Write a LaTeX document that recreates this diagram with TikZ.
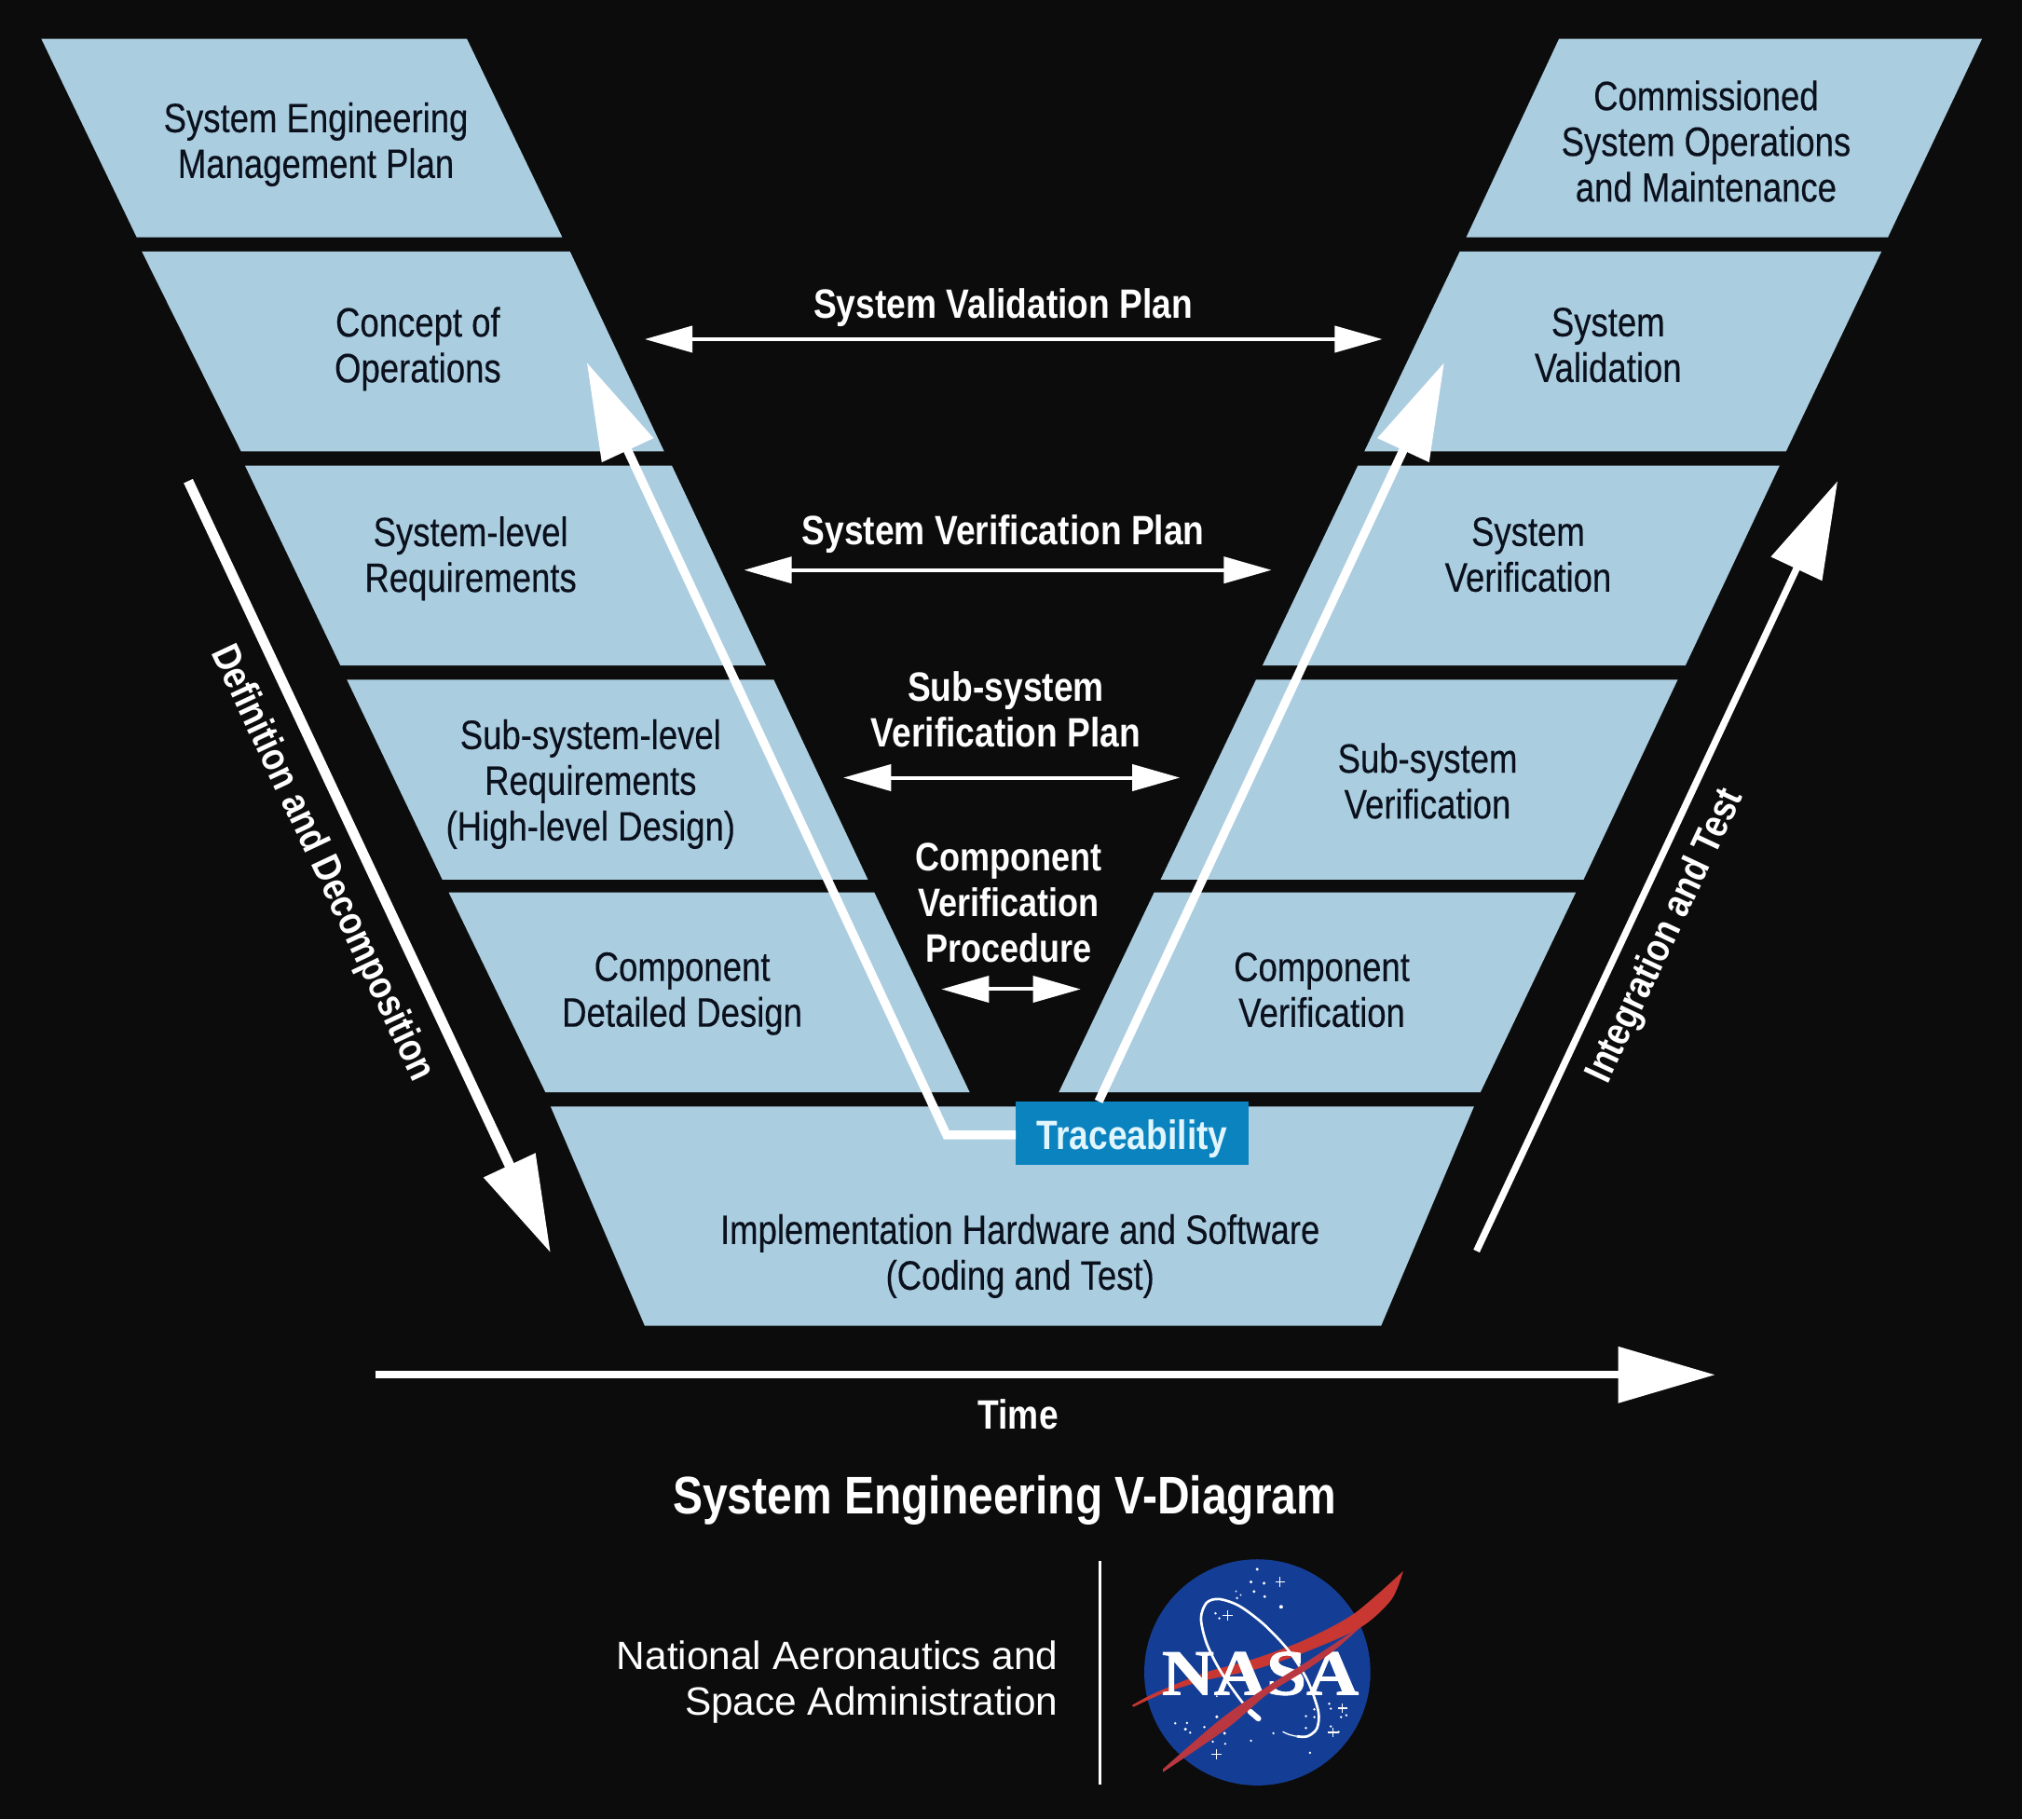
\documentclass[tikz,border=0pt]{standalone}
\usepackage{fontspec}
\setmainfont{Liberation Sans}[FakeStretch=0.83,FakeBold=0.25]
\newfontfamily\planfont{Liberation Sans}[FakeStretch=0.845]
\newfontfamily\plainsans{Liberation Sans}
\newfontfamily\logoserif{Liberation Serif}[FakeStretch=1.12,FakeBold=1.2]
\usetikzlibrary{arrows.meta}
\definecolor{pagebg}{RGB}{12,12,12}
\definecolor{bandblue}{RGB}{171,205,224}
\definecolor{inkdark}{RGB}{10,16,28}
\definecolor{tracebox}{RGB}{10,131,191}
\definecolor{tracetext}{RGB}{225,245,252}
\definecolor{logoblue}{RGB}{20,62,150}
\definecolor{logored}{RGB}{200,55,50}
\definecolor{logored2}{RGB}{185,55,65}
\tikzset{
  band/.style={fill=bandblue},
  bandlabel/.style={text=inkdark,align=center,inner sep=0.75pt,font=\fontsize{33}{36.8}\selectfont},
  planlabel/.style={text=white,align=center,inner sep=0.75pt,font=\planfont\fontsize{33}{36.8}\selectfont\bfseries},
  planarrow/.style={draw=white,line width=3,{Triangle[length=38.4,width=21]}-{Triangle[length=38.4,width=21]}},
  bigarrow/.style={draw=white,line width=7,-{Triangle[length=78,width=44]}},
}
\begin{document}
\begin{tikzpicture}[x=1.038pt,y=1.038pt,yscale=-1,xscale=1]
\useasboundingbox (0,0) rectangle (1568,1410.5);
\fill [pagebg] (0,0) rectangle (1568,1410.5);

%Shape: left bands
\fill [band] (32,30) -- (362,30) -- (436,184) -- (106,184) -- cycle ;
\fill [band] (110,195) -- (442,195) -- (515,350) -- (187,350) -- cycle ;
\fill [band] (190,361) -- (521,361) -- (594,516) -- (264,516) -- cycle ;
\fill [band] (269,527) -- (600,527) -- (673,682) -- (343,682) -- cycle ;
\fill [band] (348,692) -- (678,692) -- (752,847) -- (423,847) -- cycle ;
%Shape: right bands
\fill [band] (1209,30) -- (1537,30) -- (1464,184) -- (1137,184) -- cycle ;
\fill [band] (1132,195) -- (1459,195) -- (1385,350) -- (1058,350) -- cycle ;
\fill [band] (1053,361) -- (1380,361) -- (1307,516) -- (979,516) -- cycle ;
\fill [band] (974,527) -- (1301,527) -- (1228,682) -- (900,682) -- cycle ;
\fill [band] (895,692) -- (1222,692) -- (1148,847) -- (821,847) -- cycle ;
%Shape: bottom band
\fill [band] (427,858) -- (1143,858) -- (1071,1028) -- (500,1028) -- cycle ;

% Text Node
\node (mgmtplan) at (245,112) [bandlabel] {System Engineering\\Management Plan};
\node (conops) at (324,270.5) [bandlabel] {Concept of\\Operations};
\node (sysreq) at (365,433) [bandlabel] {System-level\\Requirements};
\node (subreq) at (458,608) [bandlabel] {Sub-system-level\\Requirements\\(High-level Design)};
\node (compdesign) at (529,770.5) [bandlabel] {Component\\Detailed Design};
\node (commission) at (1323,109.5) [bandlabel] {Commissioned\\System Operations\\and Maintenance};
\node (sysval) at (1247,267.5) [bandlabel] {System\\Validation};
\node (sysver) at (1185,430) [bandlabel] {System\\Verification};
\node (subver) at (1107,605.5) [bandlabel] {Sub-system\\Verification};
\node (compver) at (1025,767.5) [bandlabel] {Component\\Verification};
\node (impl) at (791,974) [bandlabel] {Implementation Hardware and Software\\(Coding and Test)};

% Text Node
\node (valplan) at (778,238.5) [planlabel] {System Validation Plan};
\node (verplan) at (778,414) [planlabel] {System Verification Plan};
\node (subplan) at (780,550) [planlabel] {Sub-system\\Verification Plan};
\node (compproc) at (782,700) [planlabel,font=\planfont\fontsize{32}{36.8}\selectfont\bfseries] {Component\\Verification\\Procedure};
\node (timelabel) at (789.5,1097) [planlabel] {Time};
\node (deflabel) at (249.5,669.5) [planlabel,rotate=-64.8,font=\planfont\fontsize{32}{36.8}\selectfont\bfseries] {Definition and Decomposition};
\node (intlabel) at (1292,726) [planlabel,rotate=64.8,font=\planfont\fontsize{32}{36.8}\selectfont\bfseries] {Integration and Test};
\node (vtitle) at (779,1163) [text=white,inner sep=0.75pt,font=\planfont\fontsize{42.6}{46}\selectfont\bfseries] {System Engineering V-Diagram};
\node (agency) at (821.5,1304) [anchor=east,text=white,align=right,inner sep=0.75pt,font=\plainsans\fontsize{31.8}{36.6}\selectfont] {National Aeronautics and\\Space Administration};

%Straight Lines: plan arrows
\coordinate (vala) at (500,263); \coordinate (valb) at (1072,263);
\coordinate (vera) at (577,442); \coordinate (verb) at (986,442);
\coordinate (suba) at (654,603); \coordinate (subb) at (915,603);
\coordinate (compa) at (730,767); \coordinate (compb) at (838,767);
\draw [planarrow] (vala) -- (valb) ;
\draw [planarrow] (vera) -- (verb) ;
\draw [planarrow] (suba) -- (subb) ;
\draw [planarrow] (compa) -- (compb) ;

%Straight Lines: outer arrows
\coordinate (defa) at (146,373); \coordinate (defb) at (427,971.5);
\coordinate (inta) at (1145,970); \coordinate (intb) at (1425,373);
\coordinate (timea) at (291,1066); \coordinate (timeb) at (1330,1066);
\draw [bigarrow,line width=8] (defa) -- (defb) ;
\draw [bigarrow,line width=5.5] (inta) -- (intb) ;
\draw [bigarrow,line width=6] (timea) -- (timeb) ;

%Traceability box and its two arrows
\node (trace) at (878,878.5) [fill=tracebox,text=tracetext,minimum width=187,minimum height=50.8,inner sep=0pt,font=\planfont\fontsize{33}{36.8}\selectfont\bfseries] {\raisebox{-13pt}[0pt][0pt]{Traceability}};
\coordinate (tracebend) at (734,880); \coordinate (traceleft) at (455,281);
\coordinate (tracestart) at (852,854); \coordinate (traceright) at (1120,281);
\draw [bigarrow,line join=miter] (trace.west |- tracebend) -- (tracebend) -- (traceleft) ;
\draw [bigarrow] (tracestart) -- (traceright) ;

%Straight Lines: divider
\coordinate (rulea) at (853,1210); \coordinate (ruleb) at (853,1384);
\draw [white,line width=2] (rulea) -- (ruleb) ;

%Logo
\begin{scope}[shift={(867,1199.4)},x=0.25pt,y=0.25pt]
\fill [logoblue] (448.5,404) circle (364) ;
\fill [logored] plot [smooth] coordinates {(918,78) (760,215) (600,300) (440,360) (280,405) (120,470) (45,510)} -- plot [smooth] coordinates {(50,515) (150,470) (280,430) (440,395) (600,340) (780,260) (880,170) (918,78)} -- cycle ;
\draw [white,line width=2] plot [smooth] coordinates {(450,550) (400,500) (330,400) (285,310) (267,230) (285,180) (325,168) (390,190) (470,250) (550,335) (610,430) (645,530) (640,585) (610,610) (575,610)} ;
\draw [white,line width=1] plot [smooth] coordinates {(575,610) (550,604) (530,595)} ;
\draw [white,line width=4.5,line cap=round] (425,530) -- (452,553) ;
\node (nasa) at (458,408) [text=white,inner sep=0pt,font=\logoserif\fontsize{52}{52}\selectfont\bfseries] {NASA};
\fill [logored2] plot [smooth] coordinates {(790,250) (730,290) (600,375) (480,450) (330,555) (145,715)} -- plot [smooth] coordinates {(145,725) (350,585) (480,475) (600,400) (700,330) (790,250)} -- cycle ;
%stars
\fill [white] (448,72) circle (5) (428,113) circle (5) (470,117) circle (5) (438,144) circle (5) (472,160) circle (5) (525,193) circle (6) (380,143) circle (3) (395,155) circle (3) (383,165) circle (4) (314,214) circle (4) (326,230) circle (4) (680,505) circle (4) (685,521) circle (4) (735,542) circle (4) (718,548) circle (4) (632,523) circle (4) (632,548) circle (4) (605,545) circle (4) (605,583) circle (4) (685,578) circle (4) (710,596) circle (4) (184,568) circle (4) (222,567) circle (4) (217,587) circle (5) (232,598) circle (4) (278,580) circle (4) (318,547) circle (5) (343,600) circle (5) (305,627) circle (4) (345,634) circle (4) (428,624) circle (4) (500,600) circle (4) (618,663) circle (4) (318,481) circle (3) ;
\draw [white,line width=0.9] (522,97) -- (522,129) (506,113) -- (538,113) (352,205) -- (352,237) (336,221) -- (368,221) (723,503) -- (723,535) (707,519) -- (739,519) (692,581) -- (692,613) (676,597) -- (708,597) (316,652) -- (316,684) (300,668) -- (332,668) ;
\end{scope}

\end{tikzpicture}
\end{document}
